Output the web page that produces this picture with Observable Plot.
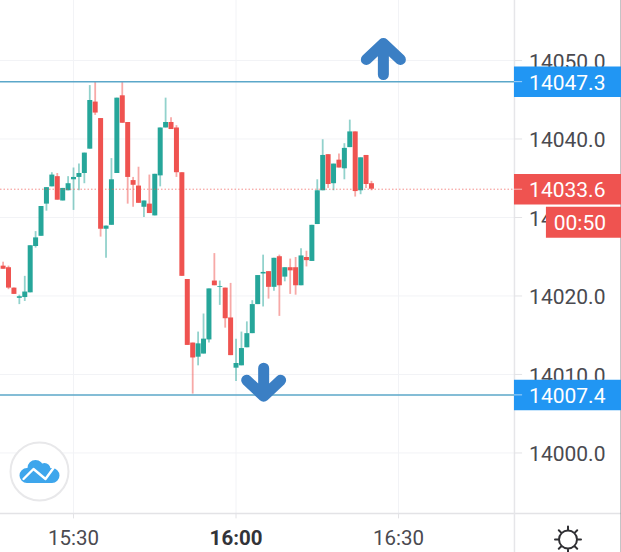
<!DOCTYPE html>
<html>
<head>
<meta charset="utf-8">
<script src="https://cdn.jsdelivr.net/npm/d3@7"></script>
<script src="https://cdn.jsdelivr.net/npm/@observablehq/plot@0.6"></script>
<style>
html,body{margin:0;padding:0;background:#fff;overflow:hidden}
svg{display:block}
</style>
</head>
<body>
<div id="chart"></div>
<script>
// One candle per minute, first candle 15:17
const firstCandle = [15, 17];
const opens = [14023.8,14023.6,14021.0,14019.7,14019.8,14020.4,14026.3,14027.6,14031.7,14033.9,14035.2,14032.1,14033.4,14034.8,14035.1,14035.6,14038.7,14044.7,14042.6,14028.5,14029.0,14035.6,14045.5,14042.1,14034.7,14034.0,14031.3,14031.7,14030.2,14035.3,14041.4,14042.1,14041.4,14035.7,14022.1,14014.0,14012.2,14012.6,14014.4,14021.9,14021.1,14021.0,14017.2,14010.8,14011.1,14013.4,14015.2,14018.9,14022.8,14023.1,14021.1,14025.0,14022.4,14023.6,14023.6,14021.3,14024.9,14024.4,14029.1,14033.4,14038.0,14034.3,14037.3,14036.2,14038.9,14040.9,14033.4,14037.9,14034.3];
const highs = [14024.3,14023.8,14021.0,14020.1,14022.5,14026.4,14028.2,14031.4,14033.8,14035.7,14035.6,14033.7,14035.2,14036.3,14036.8,14038.2,14046.8,14047.2,14042.6,14028.9,14037.5,14045.2,14047.2,14042.1,14035.1,14036.4,14032.1,14035.4,14035.5,14041.4,14045.2,14042.7,14041.7,14035.7,14022.1,14014.0,14015.4,14017.7,14020.9,14025.4,14021.9,14021.0,14021.6,14014.5,14015.4,14016.7,14019.4,14022.6,14025.2,14023.1,14024.8,14025.2,14023.6,14024.7,14024.9,14026.0,14025.7,14029.0,14034.8,14039.9,14038.0,14036.8,14038.1,14039.4,14042.4,14040.9,14037.6,14037.9,14034.6];
const lows = [14023.4,14020.8,14020.2,14018.9,14019.3,14020.4,14026.1,14027.6,14030.8,14033.9,14032.2,14032.1,14033.4,14030.9,14033.4,14034.3,14038.7,14043.0,14027.5,14024.8,14029.0,14035.6,14042.0,14031.7,14031.3,14031.8,14030.0,14030.5,14030.2,14033.9,14041.4,14041.2,14035.1,14022.5,14013.7,14007.5,14011.1,14012.6,14014.0,14021.3,14018.8,14015.9,14012.4,14009.1,14011.1,14013.4,14015.2,14018.9,14018.6,14019.6,14020.6,14017.4,14021.8,14020.2,14020.1,14021.3,14023.7,14024.4,14029.1,14033.4,14033.7,14033.4,14036.3,14034.8,14038.9,14032.6,14032.9,14033.7,14033.4];
const closes = [14023.4,14021.0,14020.2,14019.9,14020.5,14026.4,14027.4,14031.4,14033.8,14035.4,14032.2,14033.7,14034.3,14035.1,14035.6,14038.2,14044.9,14043.3,14028.5,14028.9,14034.8,14045.2,14042.0,14035.1,14034.1,14031.8,14032.1,14030.5,14035.5,14041.4,14042.1,14041.2,14035.7,14022.5,14013.7,14012.1,14013.9,14014.5,14020.9,14021.3,14021.2,14017.1,14012.4,14011.4,14013.3,14015.2,14018.9,14022.6,14023.0,14021.1,14024.8,14021.3,14023.6,14023.2,14021.3,14025.1,14024.5,14029.0,14033.4,14037.9,14034.2,14036.8,14036.3,14038.8,14040.9,14033.3,14037.6,14034.2,14033.6];

const priceTicks = [14000,14010,14020,14030,14040,14050];
const priceLabels = ["14000.0","14010.0","14020.0","14030.0","14040.0","14050.0"];
const timeTicks = [[15,30],[16,0],[16,30]];
const timeLabels = ["15:30","16:00","16:30"];
const boldTime = "16:00";
const levels = [14047.3,14007.4];
const levelLabels = ["14047.3","14007.4"];
const lastPrice = 14033.6;
const lastLabel = "14033.6";
const countdown = "00:50";

// Scale extents, and where the panes meet, in data units
const at = (h, m) => new Date(Date.UTC(2021, 0, 4, h, m));
const atMin = m => new Date(at(15, 30).getTime() + m * 60000);
const xStart = atMin(-13.48), xEnd = atMin(101.16);
const paneEdge = atMin(81.4), labelLeft = atMin(84.1), countdownLeft = atMin(87.3);
const badgeTextRight = atMin(98.3), tickEnd = atMin(82.9), outerEdge = atMin(101.08);
const yTop = 14057.64, yBottom = 13987.32, paneFloor = 13992.3, floorTick = 13991.6, timeLabelY = 13989.1;

const times = opens.map((_, i) => new Date(at(firstCandle[0], firstCandle[1]).getTime() + i * 60000));
const candles = opens.map((o, i) => ({t: times[i], o, h: highs[i], l: lows[i], c: closes[i], up: closes[i] >= o}));
const tickTimes = timeTicks.map(([h, m]) => at(h, m));

const GREEN = "#26a69a", RED = "#ef5350", BLUE = "#2196f3", LINE = "#5ba7c9", ARROW = "#3b7fc4", TXT = "#4a4a50";

const arrowShape = {
  draw(ctx, l) {
    ctx.moveTo(0, 0); ctx.lineTo(0, -l);
    ctx.moveTo(-17, -l + 16); ctx.lineTo(0, -l); ctx.lineTo(17, -l + 16);
  }
};
const cloudShape = {
  draw(ctx) {
    const lobes = [[-12.5, 3.5, 7.5], [-4, -4, 8], [5, -3, 6], [12.5, 3.5, 7.5]];
    for (const [x, y, r] of lobes) { ctx.moveTo(x + r, y); ctx.arc(x, y, r, 0, 2 * Math.PI); }
    ctx.moveTo(-12.5, 11); ctx.lineTo(-12.5, -2); ctx.lineTo(12.5, -2); ctx.lineTo(12.5, 11); ctx.closePath();
  }
};
const zigzagShape = {
  draw(ctx) { ctx.moveTo(-16, 7); ctx.lineTo(-6, -3); ctx.lineTo(6, 7); ctx.lineTo(14, -4); }
};
const gearShape = {
  draw(ctx) {
    ctx.moveTo(9, 0); ctx.arc(0, 0, 9, 0, 2 * Math.PI);
    for (let k = 0; k < 8; k++) {
      const a = k * Math.PI / 4;
      ctx.moveTo(9 * Math.cos(a), 9 * Math.sin(a));
      ctx.lineTo(13 * Math.cos(a), 13 * Math.sin(a));
    }
  }
};

const rowsP = priceTicks.map((p, i) => ({p, s: priceLabels[i]}));
const rowsT = tickTimes.map((t, i) => ({t, s: timeLabels[i]}));
const rowsL = levels.map((p, i) => ({p, s: levelLabels[i]}));

const chart = Plot.plot({
  width: 621, height: 552,
  marginTop: 0, marginRight: 0, marginBottom: 0, marginLeft: 0,
  style: {background: "#fff", fontFamily: "Roboto, sans-serif"},
  x: {type: "utc", domain: [xStart, xEnd], axis: null},
  y: {domain: [yBottom, yTop], axis: null},
  marks: [
    // grid
    Plot.ruleY(priceTicks, {x1: xStart, x2: paneEdge, stroke: "#f2f3f6", strokeWidth: 1}),
    Plot.ruleX(tickTimes, {y1: paneFloor, y2: yTop, stroke: "#f2f3f6", strokeWidth: 1}),
    // pane borders
    Plot.ruleY([paneFloor], {x1: xStart, x2: xEnd, stroke: "#e3e3e6", strokeWidth: 1.5}),
    Plot.ruleX([paneEdge], {y1: yBottom, y2: yTop, stroke: "#e6e6e9", strokeWidth: 1.5}),
    Plot.ruleX([outerEdge], {y1: yBottom, y2: yTop, stroke: "#77777c", strokeWidth: 1}),
    Plot.ruleX(tickTimes, {y1: paneFloor, y2: floorTick, stroke: "#e3e3e6", strokeWidth: 1}),
    Plot.ruleY(priceTicks, {x1: paneEdge, x2: tickEnd, stroke: "#e3e3e6", strokeWidth: 1}),
    // candle wicks and bodies
    Plot.ruleX(candles, {x: "t", y1: "l", y2: "h", stroke: d => d.up ? GREEN : RED, strokeOpacity: 0.5, strokeWidth: 1.8}),
    Plot.ruleX(candles, {x: "t", y1: "o", y2: "c", stroke: d => d.up ? GREEN : RED, strokeWidth: 5}),
    // level lines
    Plot.ruleY(levels, {x1: xStart, x2: paneEdge, stroke: LINE, strokeWidth: 1.5}),
    Plot.ruleY([lastPrice], {x1: xStart, x2: paneEdge, stroke: RED, strokeOpacity: 0.65, strokeWidth: 1, strokeDasharray: "1.5 2"}),
    // arrows
    Plot.vector([{t: atMin(57.2), p: 14048.2}], {x: "t", y: "p", length: 31, anchor: "start", rotate: 0, shape: arrowShape, stroke: ARROW, strokeWidth: 11, strokeLinecap: "round", strokeLinejoin: "round"}),
    Plot.vector([{t: atMin(35.1), p: 14010.8}], {x: "t", y: "p", length: 28, anchor: "start", rotate: 180, shape: arrowShape, stroke: ARROW, strokeWidth: 11, strokeLinecap: "round", strokeLinejoin: "round"}),
    // price axis labels (drawn below the badges)
    Plot.text(rowsP, {x: labelLeft, y: "p", dy: 1.5, text: "s", textAnchor: "start", fontSize: 21, fill: TXT}),
    // badges
    Plot.ruleY(levels, {x1: paneEdge, x2: xEnd, stroke: BLUE, strokeWidth: 30.5}),
    Plot.ruleY([lastPrice], {x1: paneEdge, x2: xEnd, stroke: RED, strokeWidth: 30.5}),
    Plot.ruleY([lastPrice], {x1: countdownLeft, x2: xEnd, dy: 33, stroke: RED, strokeWidth: 31}),
    Plot.ruleY(levels, {x1: paneEdge, x2: tickEnd, stroke: "#fff", strokeOpacity: 0.6, strokeWidth: 1}),
    Plot.ruleY([lastPrice], {x1: paneEdge, x2: tickEnd, stroke: "#fff", strokeOpacity: 0.6, strokeWidth: 1}),
    Plot.text(rowsL, {x: labelLeft, y: "p", dy: 1.5, text: "s", textAnchor: "start", fontSize: 21, fill: "#fff"}),
    Plot.text([lastLabel], {x: labelLeft, y: [lastPrice], dy: 1.5, text: d => d, textAnchor: "start", fontSize: 21, fill: "#fff"}),
    Plot.text([countdown], {x: badgeTextRight, y: [lastPrice], dy: 34, text: d => d, textAnchor: "end", fontSize: 21, fill: "#fff"}),
    // time axis labels
    Plot.text(rowsT.filter(d => d.s !== boldTime), {x: "t", y: timeLabelY, text: "s", fontSize: 20.5, fill: TXT}),
    Plot.text(rowsT.filter(d => d.s === boldTime), {x: "t", y: timeLabelY, text: "s", fontWeight: "bold", fontSize: 20.5, fill: "#333338"}),
    // logo
    Plot.dot([0], {frameAnchor: "bottom-left", dx: 39, dy: -81, r: 29, fill: "#fff", stroke: "#e8e8ea", strokeWidth: 2}),
    Plot.vector([0], {frameAnchor: "bottom-left", dx: 39, dy: -81, length: 1, shape: cloudShape, fill: "#3ea6ec", stroke: "none"}),
    Plot.vector([0], {frameAnchor: "bottom-left", dx: 39, dy: -81, length: 1, shape: zigzagShape, stroke: "#fff", strokeWidth: 2.4}),
    // settings icon
    Plot.vector([0], {frameAnchor: "bottom-left", dx: 567.5, dy: -13.5, length: 1, shape: gearShape, stroke: "#2f2f33", strokeWidth: 2})
  ]
});
document.getElementById("chart").append(chart);
</script>
</body>
</html>
